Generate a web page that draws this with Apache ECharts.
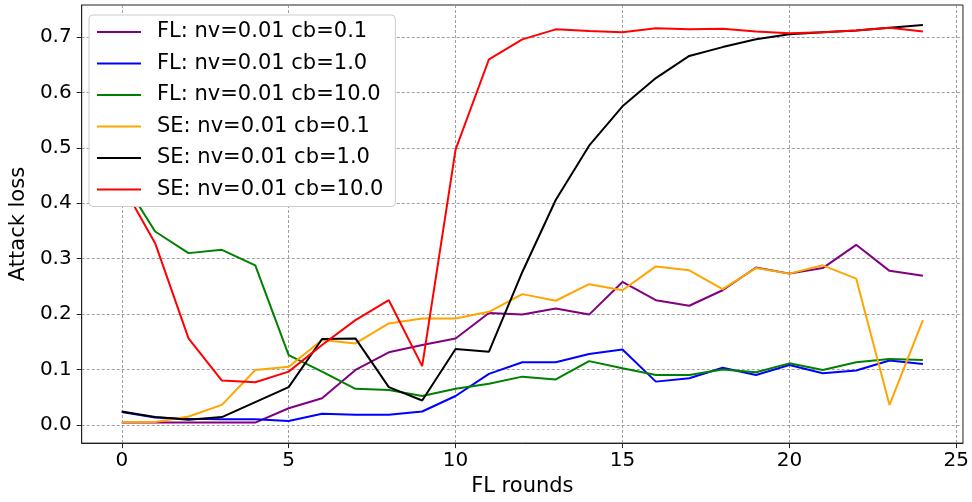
<!DOCTYPE html>
<html>
<head>
<meta charset="utf-8">
<script src="https://cdn.jsdelivr.net/npm/echarts@6/dist/echarts.min.js"></script>
<style>
  html, body { margin: 0; padding: 0; background: #fff; }
  #chart { width: 972px; height: 502px; }
</style>
</head>
<body>
<div id="chart"></div>
<script>
const rounds = [0,1,2,3,4,5,6,7,8,9,10,11,12,13,14,15,16,17,18,19,20,21,22,23,24];
const xTicks = [0, 5, 10, 15, 20, 25];
const yTicks = [0, 0.1, 0.2, 0.3, 0.4, 0.5, 0.6, 0.7];

const seriesNames = [
  'FL: nv=0.01 cb=0.1',
  'FL: nv=0.01 cb=1.0',
  'FL: nv=0.01 cb=10.0',
  'SE: nv=0.01 cb=0.1',
  'SE: nv=0.01 cb=1.0',
  'SE: nv=0.01 cb=10.0'
];

const flCb01 = [0.004, 0.004, 0.004, 0.004, 0.004, 0.030, 0.048, 0.099, 0.131, 0.144, 0.156, 0.202, 0.199, 0.210, 0.199, 0.258, 0.225, 0.215, 0.243, 0.284, 0.273, 0.283, 0.325, 0.278, 0.269];
const flCb1 = [0.023, 0.013, 0.011, 0.010, 0.010, 0.007, 0.020, 0.018, 0.018, 0.024, 0.052, 0.092, 0.113, 0.113, 0.128, 0.136, 0.078, 0.084, 0.103, 0.090, 0.108, 0.093, 0.098, 0.116, 0.110];
const flCb10 = [0.445, 0.349, 0.310, 0.316, 0.288, 0.126, 0.096, 0.065, 0.063, 0.052, 0.065, 0.074, 0.087, 0.082, 0.115, 0.102, 0.090, 0.090, 0.100, 0.095, 0.111, 0.099, 0.113, 0.119, 0.117];
const seCb01 = [0.005, 0.005, 0.015, 0.036, 0.099, 0.105, 0.153, 0.147, 0.183, 0.192, 0.192, 0.204, 0.236, 0.224, 0.254, 0.243, 0.286, 0.279, 0.245, 0.283, 0.273, 0.288, 0.264, 0.036, 0.189];
const seCb1 = [0.024, 0.014, 0.009, 0.014, 0.041, 0.068, 0.155, 0.156, 0.068, 0.044, 0.137, 0.132, 0.276, 0.406, 0.504, 0.575, 0.626, 0.666, 0.682, 0.696, 0.705, 0.709, 0.712, 0.717, 0.722];
const seCb10 = [0.435, 0.328, 0.156, 0.080, 0.077, 0.096, 0.144, 0.189, 0.225, 0.106, 0.497, 0.660, 0.696, 0.714, 0.711, 0.709, 0.716, 0.714, 0.715, 0.710, 0.707, 0.709, 0.712, 0.717, 0.710];

const seriesValues = [flCb01, flCb1, flCb10, seCb01, seCb1, seCb10];
const colors = ['#800080', '#0000ff', '#008000', '#ffa500', '#000000', '#ff0000'];

const FONT = 'DejaVu Sans';
const chart = echarts.init(document.getElementById('chart'), null, { renderer: 'canvas' });

const option = {
  animation: false,
  backgroundColor: '#ffffff',
  color: colors,
  grid: {
    left: 79, right: 9, top: 5, bottom: 58,
    show: true, borderColor: '#222', borderWidth: 1, backgroundColor: 'transparent'
  },
  legend: {
    orient: 'vertical',
    left: 89, top: 15,
    zlevel: 1, z: 20,
    itemWidth: 44, itemHeight: 14, itemGap: 7.5,
    padding: [5, 12, 5, 8],
    backgroundColor: '#ffffff',
    borderColor: '#cccccc', borderWidth: 1, borderRadius: 4,
    icon: 'path://M0,6 L44,6 L44,8 L0,8 Z',
    textStyle: { fontFamily: FONT, fontSize: 21, color: '#000', lineHeight: 24, padding: [0, 0, 0, 11] },
    data: seriesNames
  },
  xAxis: {
    type: 'value',
    min: -1.2, max: 25.2, splitNumber: 5,
    name: 'FL rounds', nameLocation: 'middle', nameGap: 32,
    nameTextStyle: { fontFamily: FONT, fontSize: 21, color: '#000' },
    axisLine: { show: true, onZero: false, lineStyle: { color: '#222', width: 1 } },
    axisTick: { show: true, inside: false, length: 5, customValues: xTicks, lineStyle: { color: '#222', width: 1 } },
    axisLabel: { customValues: xTicks, margin: 8, fontFamily: FONT, fontSize: 20, color: '#000', formatter: v => String(Math.round(v)) },
    splitLine: { show: true, lineStyle: { color: '#888', width: 0.8, type: [3, 2] } }
  },
  yAxis: {
    type: 'value',
    min: -0.033, max: 0.758, splitNumber: 8,
    name: 'Attack loss', nameLocation: 'middle', nameGap: 47,
    nameTextStyle: { fontFamily: FONT, fontSize: 21, color: '#000' },
    axisLine: { show: true, onZero: false, lineStyle: { color: '#222', width: 1 } },
    axisTick: { show: true, inside: false, length: 5, customValues: yTicks, lineStyle: { color: '#222', width: 1 } },
    axisLabel: { customValues: yTicks, margin: 10, fontFamily: FONT, fontSize: 20, color: '#000', formatter: v => v.toFixed(1) },
    splitLine: { show: true, lineStyle: { color: '#888', width: 0.8, type: [3, 2] } }
  },
  series: seriesNames.map((name, k) => ({
    name: name,
    type: 'line',
    data: rounds.map((r, i) => [r, seriesValues[k][i]]),
    showSymbol: false,
    symbol: 'none',
    lineStyle: { color: colors[k], width: 2 },
    itemStyle: { color: colors[k] },
    z: 2,
    zlevel: 0
  }))
};

chart.setOption(option);
</script>
</body>
</html>
